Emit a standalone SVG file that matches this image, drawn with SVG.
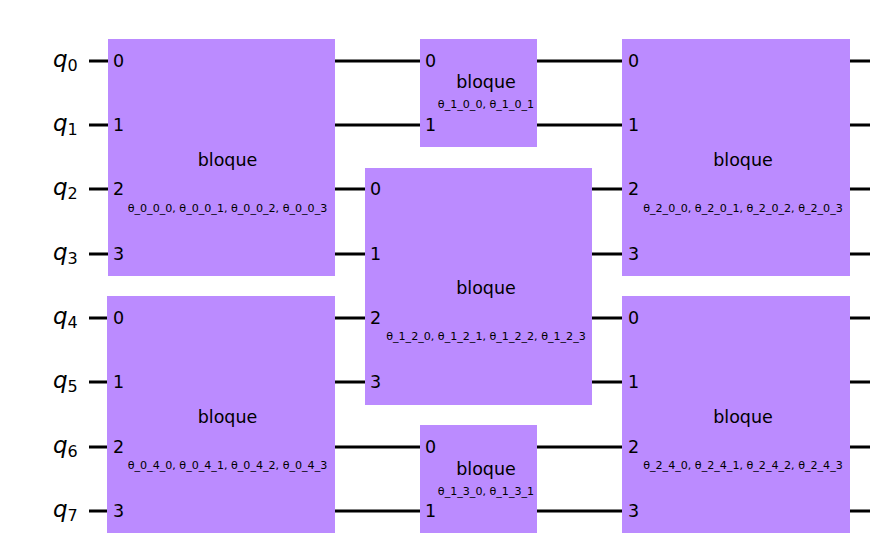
<svg xmlns="http://www.w3.org/2000/svg" width="885" height="560" viewBox="0 0 885 560">
<style>
.w{stroke:#000;stroke-width:3;fill:none}
.b{fill:#bb8bff}
text{font-family:"DejaVu Sans",sans-serif;fill:#000}
.n{font-size:17.5px}
.t{font-size:17.5px;text-anchor:middle}
.p{font-size:11.1px;text-anchor:middle}
.q{font-style:italic;font-size:23px}
.s{font-style:normal;font-size:16px}
</style>
<rect width="885" height="560" fill="#fff"/>
<g id="connectors">
<path class="w" d="M89 61H870M89 125H870M89 189H870M89 254H870M89 318H870M89 382H870M89 447H870M89 511H870"/>
</g>
<g id="labels">
<text x="53" y="67" class="q">q<tspan class="s" dy="3.5">0</tspan></text>
<text x="53" y="131" class="q">q<tspan class="s" dy="3.5">1</tspan></text>
<text x="53" y="195" class="q">q<tspan class="s" dy="3.5">2</tspan></text>
<text x="53" y="260" class="q">q<tspan class="s" dy="3.5">3</tspan></text>
<text x="53" y="324" class="q">q<tspan class="s" dy="3.5">4</tspan></text>
<text x="53" y="388" class="q">q<tspan class="s" dy="3.5">5</tspan></text>
<text x="53" y="453" class="q">q<tspan class="s" dy="3.5">6</tspan></text>
<text x="53" y="517" class="q">q<tspan class="s" dy="3.5">7</tspan></text>
</g>
<g id="b00"><rect class="b" x="108" y="39" width="227" height="237"/>
<text class="n" x="113" y="67">0</text><text class="n" x="113" y="131">1</text><text class="n" x="113" y="195">2</text><text class="n" x="113" y="260">3</text>
<text class="t" x="227.5" y="166">bloque</text><text class="p" x="227.5" y="212">θ_0_0_0, θ_0_0_1, θ_0_0_2, θ_0_0_3</text></g>
<g id="b04"><rect class="b" x="107" y="296" width="228" height="237"/>
<text class="n" x="113" y="324">0</text><text class="n" x="113" y="388">1</text><text class="n" x="113" y="453">2</text><text class="n" x="113" y="517">3</text>
<text class="t" x="227.5" y="423">bloque</text><text class="p" x="227.5" y="469">θ_0_4_0, θ_0_4_1, θ_0_4_2, θ_0_4_3</text></g>
<g id="b10"><rect class="b" x="420" y="39" width="117" height="108"/>
<text class="n" x="425" y="67">0</text><text class="n" x="425" y="131">1</text>
<text class="t" x="486" y="88">bloque</text><text class="p" x="486" y="108">θ_1_0_0, θ_1_0_1</text></g>
<g id="b12"><rect class="b" x="365" y="168" width="227" height="237"/>
<text class="n" x="370" y="195">0</text><text class="n" x="370" y="260">1</text><text class="n" x="370" y="324">2</text><text class="n" x="370" y="388">3</text>
<text class="t" x="486" y="294">bloque</text><text class="p" x="486" y="340">θ_1_2_0, θ_1_2_1, θ_1_2_2, θ_1_2_3</text></g>
<g id="b13"><rect class="b" x="420" y="425" width="117" height="108"/>
<text class="n" x="425" y="453">0</text><text class="n" x="425" y="517">1</text>
<text class="t" x="486" y="475">bloque</text><text class="p" x="486" y="495">θ_1_3_0, θ_1_3_1</text></g>
<g id="b20"><rect class="b" x="622" y="39" width="228" height="237"/>
<text class="n" x="628" y="67">0</text><text class="n" x="628" y="131">1</text><text class="n" x="628" y="195">2</text><text class="n" x="628" y="260">3</text>
<text class="t" x="743" y="166">bloque</text><text class="p" x="743" y="212">θ_2_0_0, θ_2_0_1, θ_2_0_2, θ_2_0_3</text></g>
<g id="b24"><rect class="b" x="622" y="296" width="228" height="237"/>
<text class="n" x="628" y="324">0</text><text class="n" x="628" y="388">1</text><text class="n" x="628" y="453">2</text><text class="n" x="628" y="517">3</text>
<text class="t" x="743" y="423">bloque</text><text class="p" x="743" y="469">θ_2_4_0, θ_2_4_1, θ_2_4_2, θ_2_4_3</text></g>
</svg>
